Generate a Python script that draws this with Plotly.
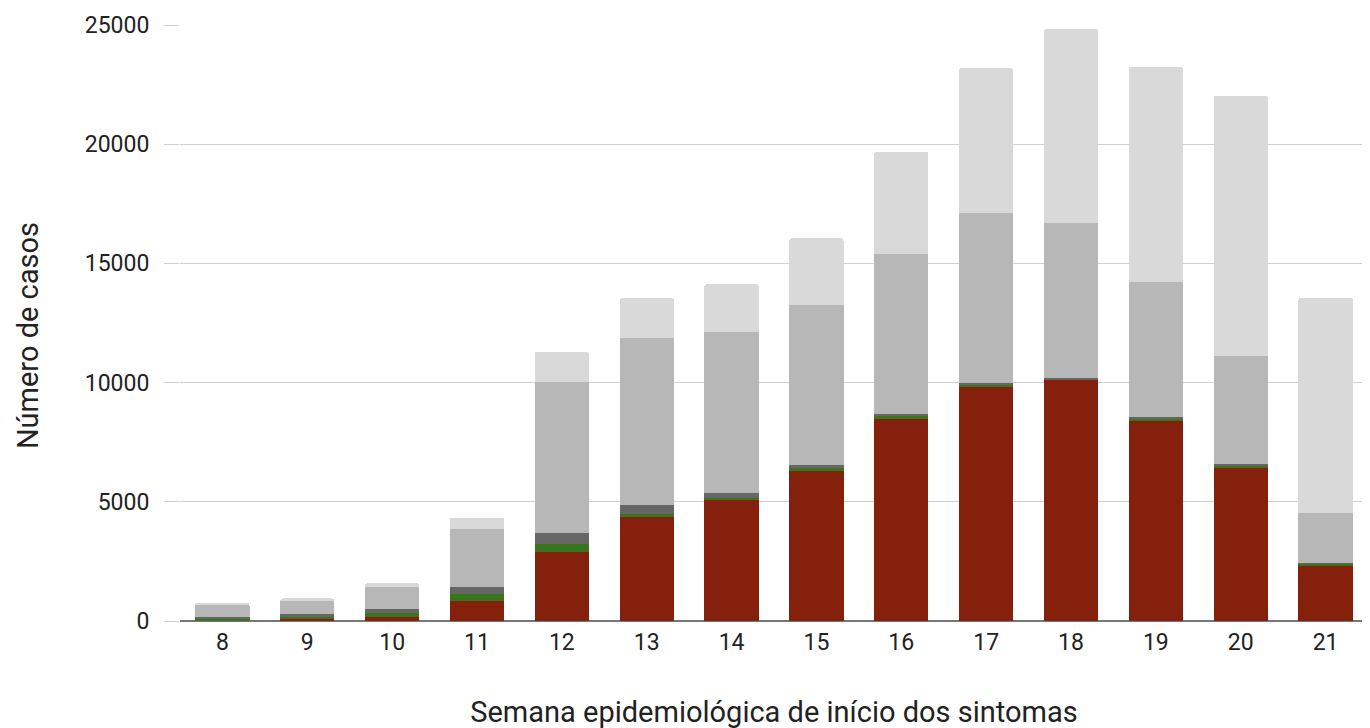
import plotly.graph_objects as go

weeks = ["8", "9", "10", "11", "12", "13", "14", "15", "16", "17", "18", "19", "20", "21"]

s_red = [20, 80, 170, 830, 2880, 4375, 5100, 6330, 8490, 9830, 10110, 8430, 6450, 2345]
s_green = [70, 100, 180, 300, 360, 110, 80, 70, 110, 70, 30, 60, 80, 60]
s_dgray = [80, 110, 140, 280, 440, 365, 170, 130, 85, 70, 40, 50, 40, 20]
s_mgray = [490, 560, 950, 2430, 6350, 7020, 6780, 6710, 6710, 7160, 6500, 5680, 4530, 2090]
s_lgray = [110, 100, 140, 500, 1270, 1680, 2005, 2820, 4290, 6070, 8140, 9030, 10930, 9040]

y_ticks = [0, 5000, 10000, 15000, 20000, 25000]
y_ticktext = ["0", "5000", "10000", "15000", "20000", "25000"]

series = [
    ("s1", s_red, "#85200c"),
    ("s2", s_green, "#38761d"),
    ("s3", s_dgray, "#666666"),
    ("s4", s_mgray, "#b7b7b7"),
    ("s5", s_lgray, "#d9d9d9"),
]

fig = go.Figure()
for name, vals, col in series:
    fig.add_trace(go.Bar(x=weeks, y=vals, name=name, marker=dict(color=col, line=dict(width=0))))

fig.update_layout(
    barmode="stack",
    bargap=0.36,
    barcornerradius=3,
    showlegend=False,
    width=1370,
    height=728,
    margin=dict(l=172, r=10, t=17, b=115),
    plot_bgcolor="white",
    paper_bgcolor="white",
    font=dict(family="Roboto", size=23, color="#222222"),
)
fig.update_xaxes(
    type="category",
    automargin=False,
    showgrid=False,
    showline=False,
    ticks="",
    tickfont=dict(size=23, color="#222222"),
    ticklabelstandoff=5,
    title=dict(text="Semana epidemiológica de início dos sintomas", font=dict(size=29, color="#222222"), standoff=46),
)
fig.update_yaxes(
    range=[0, 25000],
    automargin=False,
    tickvals=y_ticks,
    ticktext=y_ticktext,
    showgrid=True,
    gridcolor="#d0d0d0",
    gridwidth=1,
    zeroline=True,
    zerolinecolor="#777777",
    zerolinewidth=2,
    ticks="outside",
    ticklen=15,
    tickcolor="#d0d0d0",
    ticklabelstandoff=10,
    tickfont=dict(size=23, color="#222222"),
)
fig.add_annotation(
    text="Número de casos",
    xref="paper", yref="paper",
    x=0, y=0.478,
    xanchor="center", yanchor="middle",
    xshift=-152,
    textangle=-90,
    showarrow=False,
    font=dict(size=29, color="#222222"),
)

fig.write_html("out.html")
